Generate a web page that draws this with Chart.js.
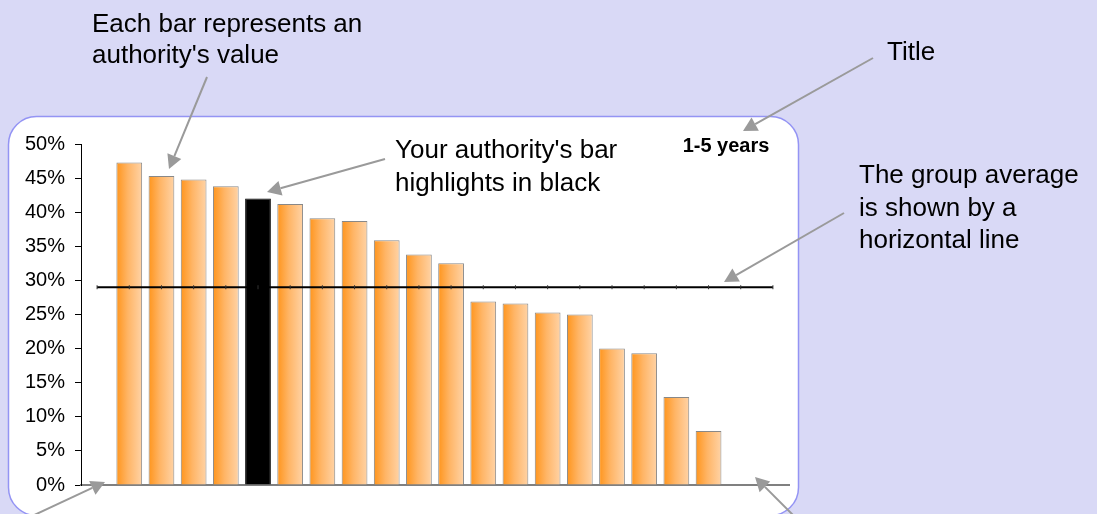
<!DOCTYPE html>
<html>
<head>
<meta charset="utf-8">
<title>1-5 years</title>
<script src="https://cdn.jsdelivr.net/npm/chart.js@4/dist/chart.umd.min.js"></script>
<style>
    html, body { margin: 0; padding: 0; background: #d9d9f6; }
    canvas { display: block; }
</style>
</head>
<body>
<canvas id="chart" width="1097" height="514"></canvas>
<script>
// one slot per authority, empty slots keep the spacing at both ends
const categories = ['', 'A', 'B', 'C', 'D', 'E', 'F', 'G', 'H', 'I', 'J', 'K',
    'L', 'M', 'N', 'O', 'P', 'Q', 'R', 'S', '', ''];
const values = [null, 47.3, 45.3, 44.8, 43.8, 42.0, 41.2, 39.1, 38.7, 35.9, 33.8,
    32.5, 26.9, 26.6, 25.3, 25.0, 20.0, 19.3, 12.9, 7.9, null, null];
const highlightIndex = 5;
const groupAverage = 29.0;
const yTicks = [0, 5, 10, 15, 20, 25, 30, 35, 40, 45, 50];
const chartTitle = '1-5 years';

const notes = [
    { lines: ['Each bar represents an', "authority's value"], x: 92, y: 32, gap: 31,
      arrow: [207, 77, 169, 169] },
    { lines: ["Your authority's bar", 'highlights in black'], x: 395, y: 158, gap: 33,
      arrow: [385, 159, 267, 192] },
    { lines: ['Title'], x: 887, y: 60, gap: 0,
      arrow: [873, 58, 743, 131] },
    { lines: ['The group average', 'is shown by a', 'horizontal line'], x: 859, y: 183, gap: 32.5,
      arrow: [844, 213, 724, 282] },
    { lines: [], arrow: [30, 517, 105, 482] },
    { lines: [], arrow: [800, 522, 755, 477] }
];

const FONT = '"Liberation Sans", Arial, sans-serif';
const BAR_PCT = 0.8;

function barFill(context) {
    const i = context.dataIndex;
    if (i === highlightIndex) return '#000000';
    const chart = context.chart;
    const area = chart.chartArea;
    if (!area || !chart.scales.x) return '#ffb060';
    const x = chart.scales.x.getPixelForValue(i);
    const half = area.width / categories.length * BAR_PCT / 2;
    const g = chart.ctx.createLinearGradient(x - half, 0, x + half, 0);
    g.addColorStop(0, '#ff951c');
    g.addColorStop(0.45, '#ffb566');
    g.addColorStop(1, '#ffd3a6');
    return g;
}

function roundRect(ctx, x, y, w, h, r) {
    ctx.beginPath();
    ctx.moveTo(x + r, y);
    ctx.lineTo(x + w - r, y);
    ctx.arcTo(x + w, y, x + w, y + r, r);
    ctx.lineTo(x + w, y + h - r);
    ctx.arcTo(x + w, y + h, x + w - r, y + h, r);
    ctx.lineTo(x + r, y + h);
    ctx.arcTo(x, y + h, x, y + h - r, r);
    ctx.lineTo(x, y + r);
    ctx.arcTo(x, y, x + r, y, r);
    ctx.closePath();
}

function drawArrow(ctx, x1, y1, x2, y2) {
    const ang = Math.atan2(y2 - y1, x2 - x1);
    const len = 14, wid = 7.5;
    const bx = x2 - Math.cos(ang) * len;
    const by = y2 - Math.sin(ang) * len;
    ctx.strokeStyle = '#9a9a9a';
    ctx.fillStyle = '#9a9a9a';
    ctx.lineWidth = 2;
    ctx.beginPath();
    ctx.moveTo(x1, y1);
    ctx.lineTo(bx, by);
    ctx.stroke();
    ctx.beginPath();
    ctx.moveTo(x2, y2);
    ctx.lineTo(bx + Math.sin(ang) * wid, by - Math.cos(ang) * wid);
    ctx.lineTo(bx - Math.sin(ang) * wid, by + Math.cos(ang) * wid);
    ctx.closePath();
    ctx.fill();
}

const panelPlugin = {
    id: 'panel',
    beforeDraw(chart) {
        const ctx = chart.ctx;
        ctx.save();
        ctx.fillStyle = '#d9d9f6';
        ctx.fillRect(0, 0, chart.width, chart.height);
        roundRect(ctx, 8.5, 116.5, 790, 399, 28);
        ctx.fillStyle = '#ffffff';
        ctx.fill();
        ctx.strokeStyle = '#9494f4';
        ctx.lineWidth = 1.5;
        ctx.stroke();
        ctx.restore();
    },
    afterDraw(chart) {
        const ctx = chart.ctx;
        ctx.save();
        ctx.fillStyle = '#000000';
        ctx.font = 'bold 20px ' + FONT;
        ctx.textAlign = 'center';
        ctx.textBaseline = 'alphabetic';
        ctx.fillText(chartTitle, 726, 152);

        notes.forEach(note => {
            const a = note.arrow;
            drawArrow(ctx, a[0], a[1], a[2], a[3]);
            ctx.fillStyle = '#000000';
            ctx.font = '26px ' + FONT;
            ctx.textAlign = 'left';
            note.lines.forEach((line, k) => {
                ctx.fillText(line, note.x, note.y + k * note.gap);
            });
        });
        ctx.restore();
    }
};

const ctx = document.getElementById('chart').getContext('2d');

new Chart(ctx, {
    data: {
        labels: categories,
        datasets: [{
            type: 'line',
            label: 'Group average',
            data: categories.map(() => groupAverage),
            borderColor: '#000000',
            borderWidth: 2,
            pointStyle: 'line',
            pointRotation: 90,
            pointRadius: 2,
            pointBorderWidth: 1,
            pointBorderColor: '#333333',
            pointBackgroundColor: '#333333',
            order: 0
        }, {
            type: 'bar',
            label: 'Authority',
            data: values,
            backgroundColor: barFill,
            borderColor: categories.map((c, i) => i === highlightIndex ? '#000000' : '#888888'),
            borderWidth: 1,
            barPercentage: BAR_PCT,
            categoryPercentage: 1,
            order: 1
        }]
    },
    options: {
        responsive: false,
        animation: false,
        events: [],
        layout: {
            padding: { left: 0, right: 308, top: 144, bottom: 29 }
        },
        plugins: {
            legend: { display: false },
            tooltip: { enabled: false }
        },
        scales: {
            x: {
                grid: { display: false },
                border: { color: '#808080', width: 2 },
                ticks: { display: false },
                afterFit(scale) { scale.height = 0; }
            },
            y: {
                min: 0,
                max: 50,
                afterBuildTicks(scale) {
                    scale.ticks = yTicks.map(v => ({ value: v }));
                },
                afterFit(scale) { scale.width = 81; },
                grid: {
                    drawOnChartArea: false,
                    color: '#000000',
                    tickLength: 6
                },
                border: { color: '#000000', width: 1 },
                ticks: {
                    color: '#000000',
                    padding: 10,
                    font: { family: FONT, size: 20 },
                    callback: v => v + '%'
                }
            }
        }
    },
    plugins: [panelPlugin]
});
</script>
</body>
</html>
